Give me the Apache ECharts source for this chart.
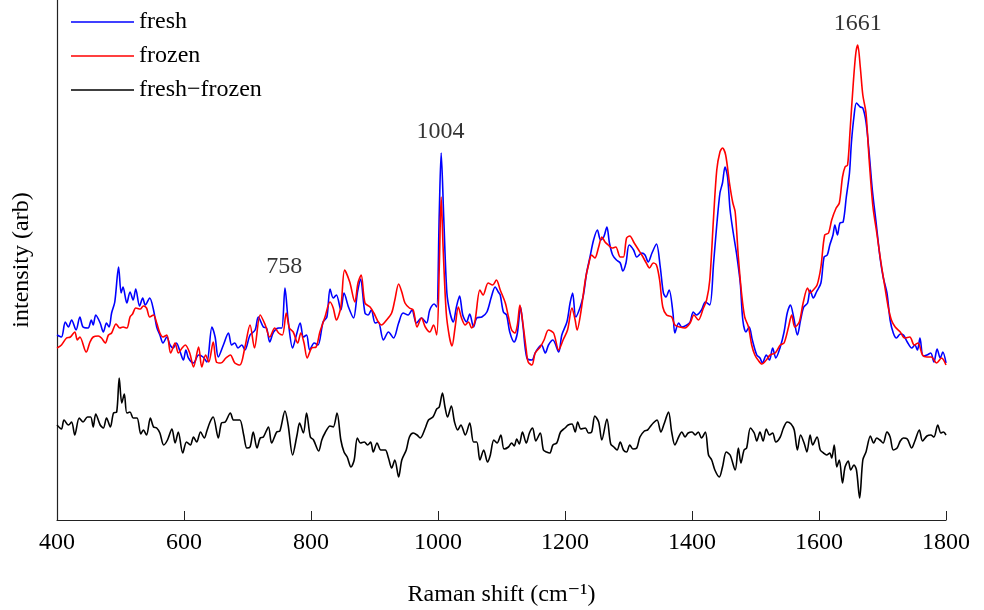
<!DOCTYPE html>
<html>
<head>
<meta charset="utf-8">
<script src="https://cdn.jsdelivr.net/npm/echarts@6/dist/echarts.min.js"></script>
<style>html,body{margin:0;padding:0;background:#fff}#c{width:984px;height:610px}</style>
</head>
<body>
<div id="c"></div>
<script>
// Raman shift (cm^-1), intensity (arb)
const fresh = [[400,185],[407,183],[413,198],[418,193],[423,200],[430,190],[436,203],[441,193],[449,192],[454,200],[457,195],[461,205],[468,197],[473,188],[478,197],[482,193],[486,207],[491,218],[497,253],[501,227],[504,233],[510,217],[515,228],[520,220],[524,231],[530,214],[535,222],[539,215],[546,222],[552,210],[557,193],[562,185],[567,177],[573,183],[578,175],[583,172],[588,177],[594,168],[599,160],[603,170],[607,162],[615,157],[623,165],[630,163],[636,158],[644,193],[649,183],[654,163],[662,175],[670,187],[675,175],[680,177],[685,172],[691,175],[696,170],[704,185],[712,190],[717,203],[725,193],[730,192],[735,178],[741,188],[749,192],[754,192],[759,232],[764,200],[771,172],[777,185],[783,197],[788,183],[793,185],[798,170],[805,177],[811,175],[819,198],[825,203],[830,231],[835,222],[840,225],[847,210],[852,227],[859,213],[867,202],[873,227],[878,241],[885,207],[890,205],[895,210],[901,197],[906,198],[914,180],[922,188],[930,182],[938,197],[945,207],[953,205],[959,210],[966,197],[974,202],[982,197],[987,210],[994,216],[998,213],[1002,307],[1005,367],[1009,303],[1014,227],[1019,207],[1024,198],[1029,213],[1034,224],[1039,205],[1045,198],[1050,206],[1056,193],[1061,202],[1069,203],[1077,208],[1084,223],[1090,233],[1095,228],[1098,225],[1103,208],[1108,205],[1113,188],[1120,178],[1125,187],[1130,213],[1134,193],[1140,162],[1148,160],[1153,167],[1158,172],[1163,175],[1169,167],[1174,175],[1181,180],[1190,168],[1195,185],[1203,198],[1208,217],[1212,227],[1217,203],[1224,213],[1229,225],[1234,247],[1239,262],[1245,280],[1251,290],[1256,280],[1261,283],[1266,293],[1270,277],[1275,265],[1281,260],[1287,257],[1291,249],[1296,257],[1301,275],[1308,270],[1313,263],[1321,267],[1326,265],[1331,258],[1337,267],[1344,276],[1350,253],[1355,227],[1359,223],[1364,230],[1370,207],[1373,187],[1379,197],[1384,193],[1392,195],[1397,198],[1402,208],[1407,205],[1415,210],[1421,218],[1428,215],[1434,257],[1439,295],[1444,327],[1448,337],[1452,353],[1456,343],[1460,310],[1465,287],[1470,267],[1476,237],[1480,200],[1485,188],[1490,193],[1495,180],[1502,165],[1507,162],[1511,157],[1517,165],[1522,160],[1527,172],[1532,162],[1539,173],[1545,188],[1550,207],[1555,215],[1560,203],[1566,185],[1571,200],[1576,213],[1582,217],[1586,230],[1591,222],[1596,228],[1603,237],[1608,263],[1613,265],[1617,275],[1622,285],[1625,295],[1629,285],[1633,297],[1638,298],[1643,323],[1648,347],[1651,377],[1655,403],[1659,417],[1665,413],[1669,412],[1674,398],[1679,367],[1684,330],[1690,297],[1696,263],[1701,243],[1707,227],[1712,200],[1717,187],[1722,182],[1728,186],[1733,185],[1739,178],[1746,172],[1751,175],[1755,170],[1759,182],[1764,164],[1770,165],[1776,167],[1781,158],[1786,171],[1791,162],[1795,168],[1800,157]];

const frozen = [[400,172],[407,175],[415,182],[421,183],[428,188],[432,180],[436,183],[446,168],[452,178],[457,183],[465,184],[470,182],[476,177],[481,185],[486,187],[493,196],[499,192],[504,193],[510,192],[515,203],[519,206],[524,212],[531,211],[536,214],[541,212],[546,203],[552,205],[557,197],[562,187],[567,183],[573,185],[579,167],[586,177],[591,167],[597,172],[602,175],[609,167],[615,153],[623,173],[628,153],[634,165],[639,158],[646,178],[651,158],[658,157],[666,162],[673,165],[680,157],[688,155],[696,173],[704,195],[711,172],[720,205],[728,195],[735,183],[743,192],[749,187],[755,185],[761,207],[766,192],[772,188],[779,177],[784,187],[789,177],[794,162],[801,172],[808,173],[814,188],[822,203],[830,218],[835,212],[840,200],[847,213],[853,250],[861,238],[869,218],[874,237],[879,245],[885,217],[893,213],[899,207],[906,198],[911,195],[919,200],[927,207],[932,220],[938,236],[943,228],[948,217],[955,212],[961,210],[967,193],[974,202],[980,193],[987,188],[993,195],[998,185],[1002,253],[1005,323],[1008,273],[1013,207],[1018,183],[1022,174],[1027,193],[1032,213],[1037,202],[1043,195],[1048,198],[1053,192],[1058,198],[1066,230],[1071,225],[1079,237],[1086,235],[1092,240],[1098,230],[1106,217],[1111,203],[1116,190],[1121,187],[1125,195],[1129,215],[1133,200],[1139,170],[1142,158],[1148,155],[1153,167],[1161,173],[1167,180],[1174,190],[1182,187],[1190,170],[1197,180],[1204,190],[1211,212],[1216,200],[1219,190],[1225,208],[1232,240],[1237,255],[1242,265],[1247,262],[1253,273],[1258,283],[1263,278],[1268,275],[1274,272],[1280,273],[1287,263],[1292,263],[1297,282],[1302,284],[1309,277],[1316,270],[1321,265],[1328,257],[1333,252],[1339,257],[1344,255],[1349,240],[1354,213],[1360,205],[1368,203],[1373,195],[1381,193],[1389,192],[1397,197],[1403,205],[1410,200],[1418,212],[1423,220],[1428,240],[1434,303],[1439,350],[1444,368],[1448,372],[1453,365],[1459,337],[1464,318],[1468,308],[1473,263],[1478,227],[1483,203],[1489,193],[1494,175],[1499,165],[1504,160],[1510,156],[1517,160],[1523,165],[1531,167],[1539,175],[1545,177],[1552,193],[1557,205],[1562,193],[1569,198],[1575,217],[1582,232],[1586,227],[1591,230],[1597,235],[1603,253],[1609,285],[1615,287],[1620,300],[1627,312],[1632,317],[1637,343],[1641,353],[1645,355],[1649,390],[1654,437],[1658,467],[1661,475],[1665,453],[1669,425],[1674,407],[1679,360],[1685,313],[1691,287],[1697,260],[1702,240],[1709,213],[1714,200],[1720,193],[1728,188],[1735,182],[1743,183],[1750,175],[1756,177],[1763,165],[1770,163],[1777,163],[1785,157],[1793,162],[1800,155]];

const diff = [[400,95],[407,91],[411,100],[418,95],[423,98],[428,85],[435,102],[441,98],[448,103],[453,103],[457,93],[461,106],[468,95],[473,92],[478,102],[484,93],[489,107],[494,108],[498,142],[502,117],[506,126],[510,107],[515,108],[520,102],[526,102],[532,86],[536,90],[541,85],[547,102],[552,93],[557,92],[562,87],[568,75],[574,80],[581,91],[586,77],[591,88],[598,67],[604,78],[610,75],[615,83],[620,78],[626,88],[632,82],[636,89],[641,98],[646,103],[654,82],[659,97],[665,98],[673,107],[678,100],[683,100],[688,100],[694,85],[699,72],[704,73],[709,88],[715,72],[720,82],[725,83],[733,93],[738,77],[746,88],[751,89],[759,109],[764,95],[771,65],[778,85],[782,97],[788,87],[793,107],[799,83],[804,80],[812,69],[817,80],[822,87],[830,94],[835,93],[841,107],[847,80],[852,68],[857,63],[863,53],[868,60],[873,82],[878,77],[884,78],[889,75],[894,78],[898,68],[904,77],[910,70],[917,70],[922,62],[927,52],[932,60],[938,43],[943,60],[950,70],[955,83],[961,87],[967,85],[972,82],[980,92],[985,100],[992,103],[998,111],[1002,113],[1007,127],[1011,113],[1015,103],[1021,114],[1026,98],[1031,90],[1036,95],[1043,85],[1050,97],[1056,78],[1061,78],[1066,60],[1072,70],[1078,58],[1082,64],[1088,80],[1093,77],[1099,85],[1104,71],[1111,73],[1116,77],[1120,74],[1124,81],[1128,76],[1133,88],[1139,77],[1144,87],[1149,92],[1154,79],[1161,87],[1166,70],[1171,68],[1176,67],[1181,75],[1187,77],[1193,88],[1200,92],[1205,95],[1211,96],[1216,88],[1220,98],[1225,91],[1232,92],[1237,87],[1242,88],[1247,104],[1253,98],[1258,80],[1266,101],[1272,76],[1277,73],[1282,70],[1287,78],[1292,70],[1297,68],[1302,75],[1307,71],[1313,72],[1318,83],[1325,89],[1330,90],[1335,94],[1339,97],[1345,100],[1351,88],[1356,96],[1363,108],[1368,88],[1373,75],[1379,83],[1384,88],[1389,83],[1394,87],[1400,88],[1405,85],[1410,88],[1415,82],[1421,88],[1426,65],[1431,60],[1436,50],[1443,43],[1448,53],[1454,68],[1460,65],[1468,50],[1473,72],[1477,57],[1482,70],[1486,72],[1492,92],[1498,87],[1502,79],[1507,88],[1512,79],[1517,91],[1522,85],[1527,87],[1532,78],[1539,83],[1544,92],[1550,98],[1556,96],[1561,90],[1566,70],[1571,85],[1577,76],[1581,68],[1586,85],[1590,75],[1597,83],[1602,70],[1607,67],[1612,65],[1617,67],[1620,62],[1624,75],[1628,53],[1632,60],[1637,37],[1641,53],[1646,59],[1650,50],[1655,55],[1659,50],[1664,22],[1669,60],[1674,68],[1681,84],[1686,77],[1691,82],[1696,80],[1701,77],[1707,88],[1712,83],[1717,70],[1723,72],[1728,79],[1733,82],[1739,81],[1746,72],[1751,79],[1758,90],[1763,79],[1770,84],[1776,85],[1781,83],[1787,95],[1792,87],[1796,88],[1800,85]];

const peakLabels = [758, 1004, 1661];
const xTicks = [400, 600, 800, 1000, 1200, 1400, 1600, 1800];

const FONT = '"Liberation Serif", "DejaVu Serif", serif';

// place each peak label just above the highest measured point near it
function peakTop(w) {
  let best = -Infinity;
  [fresh, frozen].forEach(s => s.forEach(p => { if (Math.abs(p[0] - w) <= 4 && p[1] > best) best = p[1]; }));
  return best;
}
const peakData = peakLabels.map(w => ({ value: [w, peakTop(w)], label: { formatter: String(w) } }));

const chart = echarts.init(document.getElementById('c'), null, { renderer: 'canvas' });
chart.setOption({
  animation: false,
  backgroundColor: '#ffffff',
  grid: { left: 57, right: 38, top: 0, bottom: 90, containLabel: false, outerBoundsMode: 'none' },
  legend: {
    orient: 'vertical', left: 66, top: 5,
    icon: 'rect', itemWidth: 63, itemHeight: 1.6, itemGap: 10,
    textStyle: { fontFamily: FONT, fontSize: 24, color: '#000', lineHeight: 24 },
    data: ['fresh', 'frozen', 'fresh\u2212frozen']
  },
  xAxis: {
    type: 'value', min: 400, max: 1800, interval: 200,
    name: 'Raman shift (cm\u207B\u00B9)', nameLocation: 'middle', nameGap: 63,
    nameTextStyle: { fontFamily: FONT, fontSize: 24, color: '#000' },
    axisLine: { show: true, lineStyle: { color: '#222', width: 1.2 } },
    axisTick: { show: true, inside: true, length: 9, lineStyle: { color: '#222', width: 1 } },
    axisLabel: { fontFamily: FONT, fontSize: 24, color: '#000', margin: 11,
      formatter: v => (xTicks.indexOf(v) >= 0 ? String(v) : '') },
    splitLine: { show: false }
  },
  yAxis: {
    type: 'value', min: 0, max: 520,
    name: 'intensity (arb)', nameLocation: 'middle', nameGap: 23, nameRotate: 90,
    nameTextStyle: { fontFamily: FONT, fontSize: 24, color: '#000' },
    axisLine: { show: true, lineStyle: { color: '#222', width: 1.2 } },
    axisTick: { show: false }, axisLabel: { show: false }, splitLine: { show: false }
  },
  series: [
    { name: 'fresh', type: 'line', data: fresh, symbol: 'none', smooth: 0.3,
      lineStyle: { color: '#0000ff', width: 1.6 }, itemStyle: { color: '#0000ff' } },
    { name: 'frozen', type: 'line', data: frozen, symbol: 'none', smooth: 0.3,
      lineStyle: { color: '#ff0000', width: 1.6 }, itemStyle: { color: '#ff0000' } },
    { name: 'fresh\u2212frozen', type: 'line', data: diff, symbol: 'none', smooth: 0.3,
      lineStyle: { color: '#000000', width: 1.6 }, itemStyle: { color: '#000000' } },
    { name: 'peaks', type: 'scatter', data: peakData, symbolSize: 0, silent: true,
      label: { show: true, position: 'top', distance: 9, fontFamily: FONT, fontSize: 24, color: '#000' } }
  ]
});
</script>
</body>
</html>
